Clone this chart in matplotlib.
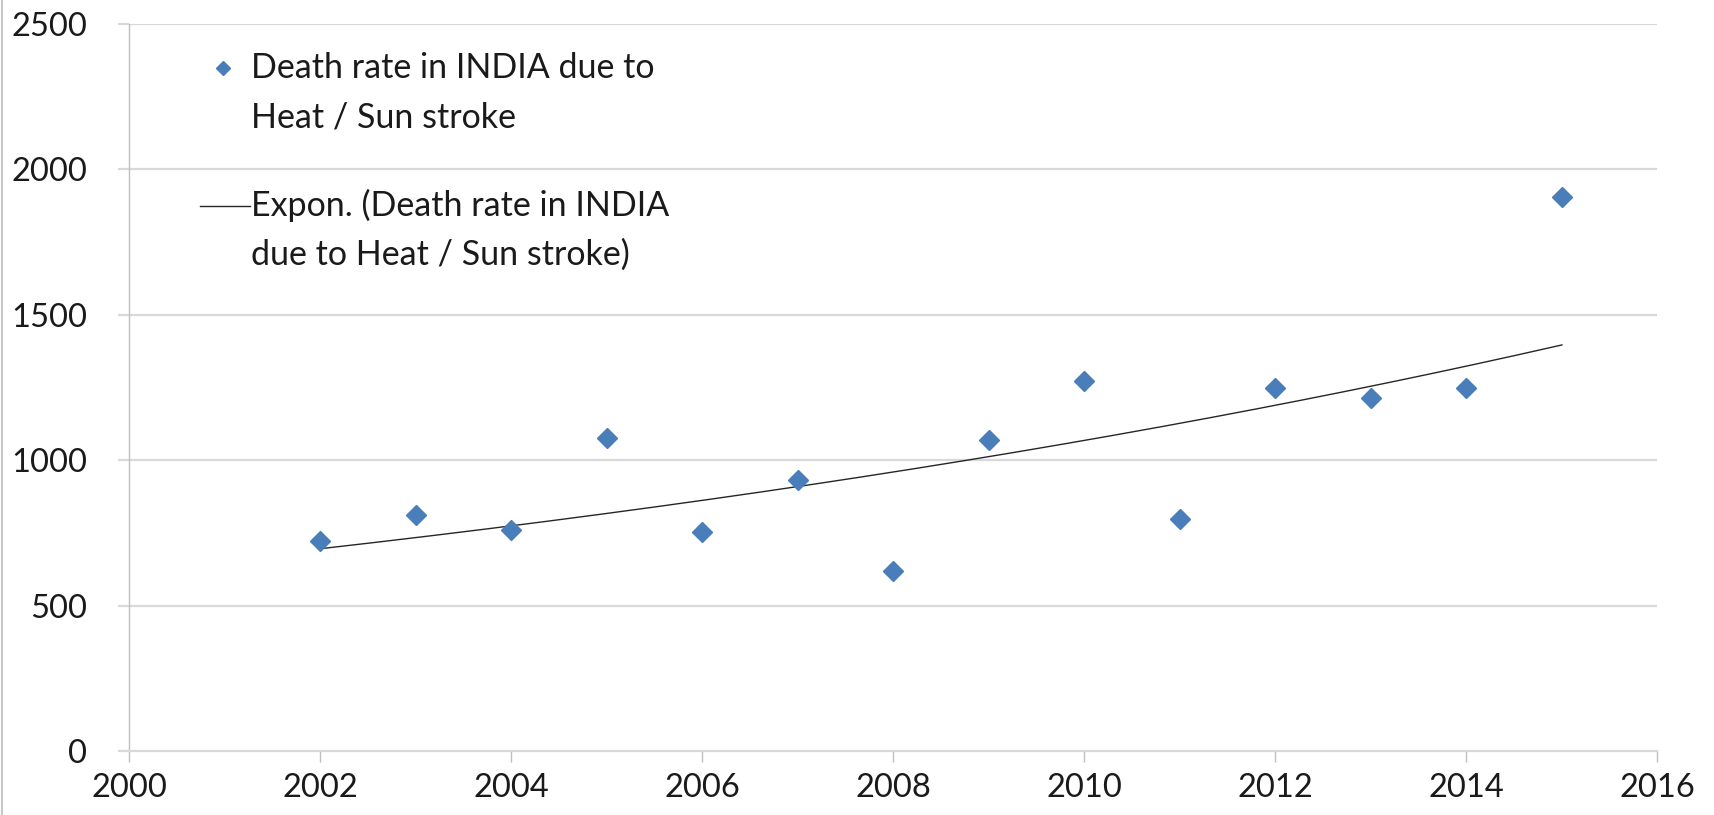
import numpy as np
import matplotlib.pyplot as plt
from matplotlib.lines import Line2D

plt.rcParams['font.family'] = ['Lato', 'DejaVu Sans']

# data
years = [2002, 2003, 2004, 2005, 2006, 2007, 2008,
         2009, 2010, 2011, 2012, 2013, 2014, 2015]
deaths = [722, 812, 759, 1075, 752, 932, 620,
          1071, 1274, 797, 1248, 1214, 1248, 1906]
x_ticks = [2000, 2002, 2004, 2006, 2008, 2010, 2012, 2014, 2016]
y_ticks = [0, 500, 1000, 1500, 2000, 2500]

series_lines = ["Death rate in INDIA due to", "Heat / Sun stroke"]
trend_lines = ["Expon. (Death rate in INDIA", "due to Heat / Sun stroke)"]

# Excel style exponential trendline: least squares on ln(y)
b, ln_a = np.polyfit(years, np.log(deaths), 1)
x_fit = np.linspace(years[0], years[-1], 200)
y_fit = np.exp(ln_a + b * x_fit)

fig = plt.figure(figsize=(17.14, 8.15), dpi=100)
ax = fig.add_axes([0.0753, 0.0785, 0.8917, 0.8921])

grid_col = '#d9d9d9'
text_col = '#1a1a1a'
blue = '#4a7ebb'
for yv in y_ticks[1:]:
    ax.axhline(yv, color=grid_col, linewidth=1.6, zorder=0)

ax.plot(years, deaths, linestyle='none', marker='D', markersize=10.5,
        color=blue, zorder=3)
ax.plot(x_fit, y_fit, color='#262626', linewidth=1.0, zorder=2)

ax.set_xlim(2000, 2016)
ax.set_ylim(0, 2500)
ax.set_xticks(x_ticks)
ax.set_yticks(y_ticks)

for side in ['top', 'right']:
    ax.spines[side].set_visible(False)
ax.spines['left'].set_color('#bfbfbf')
ax.spines['left'].set_linewidth(1.0)
ax.spines['bottom'].set_color(grid_col)
ax.spines['bottom'].set_linewidth(1.6)

ax.tick_params(axis='x', direction='out', length=8, width=1.0, color='#bfbfbf',
               labelsize=23.5, labelcolor=text_col, pad=8)
ax.tick_params(axis='y', direction='out', length=8, width=1.6, color=grid_col,
               labelsize=23.5, labelcolor=text_col, pad=22)

# legend drawn by hand so the handles sit on the first line of each label
lx, ly = 0.080, 0.940
line_gap = 0.068
entry_gap = 0.190
ax.plot([0.0615], [ly], transform=ax.transAxes, marker='D', markersize=7.5,
        color=blue, linestyle='none', clip_on=False)
ax.plot([0.0465, 0.0794], [ly - entry_gap] * 2, transform=ax.transAxes,
        color='#262626', linewidth=1.0, clip_on=False)
for i, txt in enumerate(series_lines):
    ax.text(lx, ly - i * line_gap, txt, transform=ax.transAxes, fontsize=24.5,
            color=text_col, va='center', ha='left')
for i, txt in enumerate(trend_lines):
    ax.text(lx, ly - entry_gap - i * line_gap, txt, transform=ax.transAxes,
            fontsize=24.5, color=text_col, va='center', ha='left')

# thin frame line on the left edge of the picture
fig.add_artist(Line2D([0.001, 0.001], [0, 1], transform=fig.transFigure,
                      color='#c8c8c8', linewidth=1.5))

fig.savefig('out.png', dpi=100)
